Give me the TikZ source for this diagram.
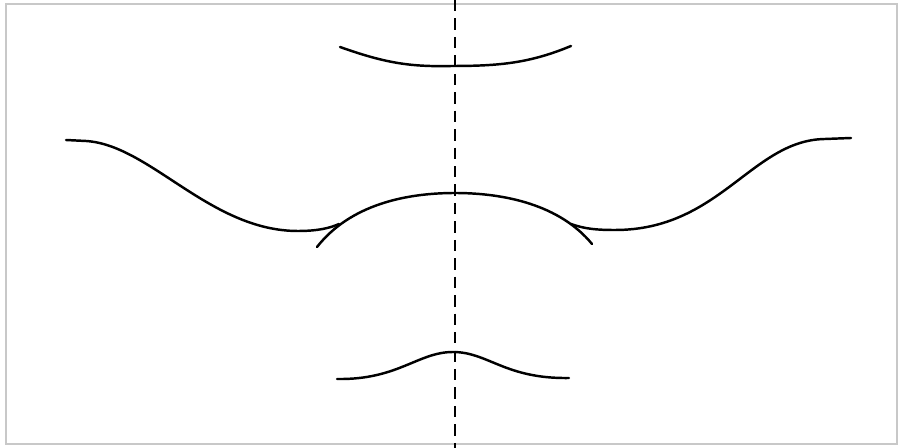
\documentclass[tikz,border=0pt]{standalone}
\usepackage{tikz}
\usetikzlibrary{calc}
\definecolor{framegray}{HTML}{C8C8C8}
\tikzset{
  curve/.style={line width=1.4pt,line cap=round},
  axisline/.style={line width=0.8pt,dash pattern=on 6.5pt off 4pt},
  frameline/.style={framegray,line width=1pt}
}

\begin{document}
\begin{tikzpicture}[x=0.02cm,y=-0.02cm]
  \useasboundingbox (0,0) rectangle (898,448);
  \draw[frameline] (6,4) rectangle (897,444);
  % symmetry axis
  \coordinate (atop) at (455,0);
  \coordinate (abot) at (455,448);
  \draw[axisline] (atop)--(abot);
  % upper curve
  \draw[curve] (340,47) .. controls (385,63) and (410,67) .. (452,66)
                        .. controls (500,66) and (530,63) .. (571,46);
  % middle: arch and the two side waves
  \draw[curve] (317,247) .. controls (350,205) and (405,193) .. (455,193)
                         .. controls (505,193) and (560,205) .. (592,244);
  \draw[curve] (66,140) -- (86,141) .. controls (150,145) and (210,231) .. (298,231)
                        .. controls (318,231) and (330,228) .. (339,224);
  \draw[curve] (571,224) .. controls (585,229) and (597,230) .. (615,230)
                         .. controls (720,230) and (752,140) .. (825,139) -- (851,138);
  % lower bump
  \draw[curve] (337,379) .. controls (398,380) and (418,352) .. (453,352)
                         .. controls (488,352) and (505,379) .. (569,378);
\end{tikzpicture}
\end{document}
